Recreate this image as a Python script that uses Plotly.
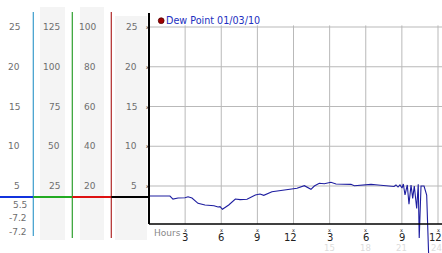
import plotly.graph_objects as go

# ---------------- data ----------------
hours = [0.0, 1.74, 1.99, 2.41, 2.99, 3.24, 3.57, 4.07, 4.65, 5.40, 5.73, 5.90, 6.10,
         6.62, 7.17, 7.56, 8.14, 8.83, 9.22, 9.53, 10.21, 11.29, 12.29, 12.90, 13.26,
         13.45, 13.73, 14.14, 14.56, 15.11, 15.53, 16.77, 17.05, 17.7, 18.44, 19.02,
         20.01, 20.35, 20.51, 20.68, 20.84, 21.01, 21.12, 21.26, 21.45, 21.59, 21.76,
         21.90, 22.03, 22.23, 22.36, 22.44, 22.59, 22.84, 23.06, 23.3]
dew_point = [3.74, 3.74, 3.36, 3.49, 3.53, 3.64, 3.49, 2.82, 2.61, 2.52, 2.36, 2.40, 2.07,
             2.61, 3.36, 3.28, 3.33, 3.87, 3.99, 3.83, 4.28, 4.50, 4.71, 5.04, 4.75,
             4.58, 5.00, 5.34, 5.29, 5.47, 5.25, 5.21, 5.04, 5.13, 5.21, 5.13,
             5.00, 4.94, 5.13, 4.87, 5.13, 4.75, 5.25, 3.87, 5.13, 2.70, 5.13,
             3.45, 5.00, 2.19, 5.21, -1.54, 5.00, 5.00, 3.87, -7.2]

y_grid = [25, 20, 15, 10, 5]
col1_labels = ["25", "20", "15", "10", "5"]
col2_labels = ["125", "100", "75", "50", "25"]
col3_labels = ["100", "80", "60", "40", "20"]
col4_labels = ["25", "20", "15", "10", "5"]
x_ticks = [3, 6, 9, 12, 15, 18, 21, 24]
x_tick_text = ["3", "6", "9", "12", "3", "6", "9", "12"]
x_faint_ticks = [15, 18, 21, 24]
x_faint_text = ["15", "18", "21", "24"]
stat_labels = ["5.5", "-7.2", "-7.2"]
legend_text = "Dew Point 01/03/10"

# ---------------- layout geometry ----------------
W, H = 442, 253
X0PX, PXH = 149.0, 289.0 / 24.0           # plot origin and px per hour
Y5PX, PXV = 186.0, 7.95                   # pixel of value 5, px per unit
x_range = [(0 - X0PX) / PXH, (W - X0PX) / PXH]
y_range = [5 - (H - Y5PX) / PXV, 5 + Y5PX / PXV]
Y_AXIS = 0.22                              # value where the bottom axis sits


def px(x):
    return x / W


def py(y):
    return 1 - y / H


fig = go.Figure()
fig.add_trace(go.Scatter(x=hours, y=dew_point, mode="lines",
                         line=dict(color="#1e1ea0", width=1.1),
                         hoverinfo="skip", showlegend=False))

shapes = []
# gray panel backgrounds
for (a, b, t) in [(40, 65, 7), (80, 104, 7), (115, 147, 16)]:
    shapes.append(dict(type="rect", xref="paper", yref="paper",
                       x0=px(a), x1=px(b), y0=py(240), y1=py(t),
                       fillcolor="#f4f4f4", line=dict(width=0), layer="below"))
# grid lines
GRID = "#b9b9b9"
for v in y_grid:
    shapes.append(dict(type="line", xref="x", yref="y", x0=0, x1=x_range[1],
                       y0=v, y1=v, line=dict(color=GRID, width=1), layer="below"))
for h in x_ticks:
    shapes.append(dict(type="line", xref="x", yref="y", x0=h, x1=h,
                       y0=Y_AXIS, y1=25.2, line=dict(color=GRID, width=1), layer="below"))
# axes
shapes.append(dict(type="line", xref="x", yref="y", x0=0, x1=x_range[1],
                   y0=Y_AXIS, y1=Y_AXIS, line=dict(color="black", width=1.5)))
shapes.append(dict(type="line", xref="x", yref="paper", x0=0, x1=0,
                   y0=py(224), y1=py(13), line=dict(color="black", width=2)))
# colored panel separators
for (xx, col, bot) in [(33.3, "#3a9ccc", 236), (72.3, "#2ea02e", 238), (111.3, "#b02a2a", 238)]:
    shapes.append(dict(type="line", xref="paper", yref="paper", x0=px(xx), x1=px(xx),
                       y0=py(bot), y1=py(12), line=dict(color=col, width=1.2)))
# thick current-value bar
for (a, b, col) in [(0, 33.3, "#1133dd"), (33.3, 72.3, "#22aa22"),
                    (72.3, 111.3, "#dd1111"), (111.3, 149, "#000000")]:
    shapes.append(dict(type="line", xref="paper", yref="paper", x0=px(a), x1=px(b),
                       y0=py(197), y1=py(197), line=dict(color=col, width=2.2)))
# legend dot
shapes.append(dict(type="circle", xref="paper", yref="paper",
                   x0=px(158.3), x1=px(164.1), y0=py(23.6), y1=py(17.8),
                   fillcolor="#a00000", line=dict(color="#500000", width=0.8)))

ann = []
FONT = "DejaVu Sans"
GRAY = "#6e6e6e"
for labels, xr in [(col1_labels, 20.5), (col2_labels, 61), (col3_labels, 97), (col4_labels, 138)]:
    for v, t in zip(y_grid, labels):
        ann.append(dict(x=px(xr), y=v, xref="paper", yref="y", text=t, showarrow=False,
                        xanchor="right", yanchor="middle", borderpad=0,
                        font=dict(family=FONT, size=9, color=GRAY)))
for v in y_grid:
    ann.append(dict(x=px(147.3), y=v, xref="paper", yref="y", text="x", showarrow=False,
                    xanchor="center", yanchor="middle", borderpad=0,
                    font=dict(family=FONT, size=5, color="#222")))
for yy, t in zip([204.5, 218, 232], stat_labels):
    ann.append(dict(x=px(27.5), y=py(yy), xref="paper", yref="paper", text=t,
                    showarrow=False, xanchor="right", yanchor="middle", borderpad=0,
                    font=dict(family=FONT, size=9, color=GRAY)))
for h, t in zip(x_ticks, x_tick_text):
    ann.append(dict(x=h, y=py(230), xref="x", yref="paper", text="x", showarrow=False,
                    xanchor="center", yanchor="middle", borderpad=0,
                    font=dict(family=FONT, size=5, color="#222")))
    ann.append(dict(x=h, y=py(237.5), xref="x", yref="paper", text=t, showarrow=False,
                    xanchor="center", yanchor="middle", borderpad=0,
                    xshift=-3 if len(t) > 1 else 0,
                    font=dict(family=FONT, size=10, color="#222")))
for h, t in zip(x_faint_ticks, x_faint_text):
    ann.append(dict(x=h, y=py(248), xref="x", yref="paper", text=t, showarrow=False,
                    xanchor="center", yanchor="middle", borderpad=0,
                    xshift=-2 if h == 24 else 0,
                    font=dict(family=FONT, size=8.5, color="#dcdcdc")))
ann.append(dict(x=px(152.5), y=py(232.5), xref="paper", yref="paper", text="Hours",
                showarrow=False, xanchor="left", yanchor="middle", borderpad=0,
                font=dict(family=FONT, size=9, color="#888")))
ann.append(dict(x=px(165), y=py(20.8), xref="paper", yref="paper", text=legend_text,
                showarrow=False, xanchor="left", yanchor="middle", borderpad=0,
                font=dict(family=FONT, size=9.6, color="#2230c0")))

fig.update_layout(
    width=W, height=H, margin=dict(l=0, r=0, t=0, b=0, pad=0),
    paper_bgcolor="white", plot_bgcolor="white",
    xaxis=dict(range=x_range, visible=False, fixedrange=True),
    yaxis=dict(range=y_range, visible=False, fixedrange=True),
    shapes=shapes, annotations=ann, showlegend=False,
)
fig.write_html("out.html", config={"displayModeBar": False})
